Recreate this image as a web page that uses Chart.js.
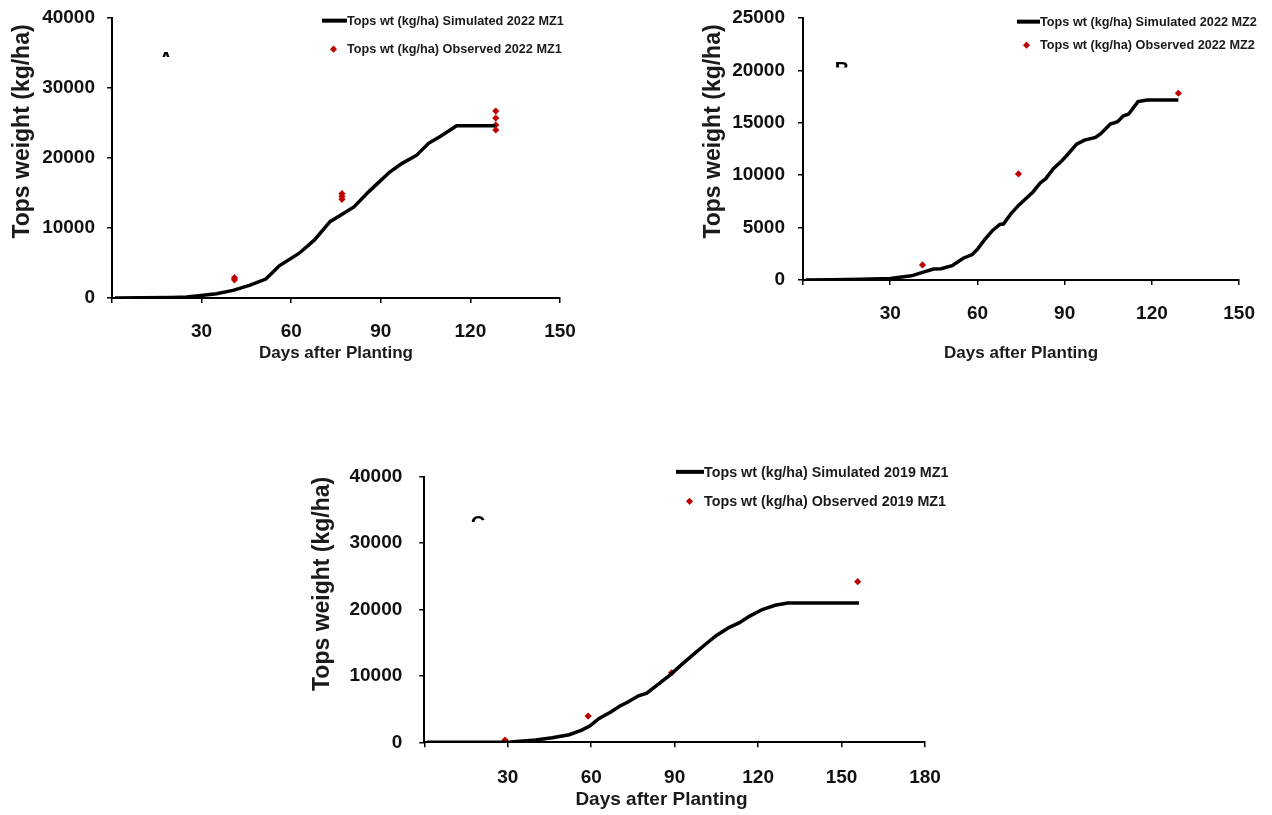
<!DOCTYPE html>
<html>
<head>
<meta charset="utf-8">
<script src="https://cdn.jsdelivr.net/npm/chart.js@4.4.1/dist/chart.umd.min.js"></script>
<style>
  body { margin:0; background:#fff; width:1272px; height:815px; position:relative; overflow:hidden;
         font-family:"Liberation Sans", Arial, sans-serif; }
  .box { position:absolute; }
  .row { position:absolute; white-space:nowrap; font-weight:bold; color:#1a1a1a; transform:translateY(-50%); line-height:1; }
  .line { position:absolute; top:50%; height:4px; margin-top:-2px; background:#000; }
  .dia { position:absolute; top:50%; width:5px; height:5px; margin-top:-2.5px; background:#c00000; transform:rotate(45deg); }
</style>
</head>
<body>

<div class="box" style="left:0;top:0;width:600px;height:380px"><canvas id="chartA" width="600" height="380"></canvas></div>
<div class="box" style="left:690px;top:0;width:582px;height:380px"><canvas id="chartB" width="582" height="380"></canvas></div>
<div class="box" style="left:300px;top:455px;width:660px;height:360px"><canvas id="chartC" width="660" height="360"></canvas></div>

<!-- legends -->
<div class="row" style="left:347px;top:21px;font-size:12.7px"><span class="line" style="left:-25px;width:25px"></span>Tops wt (kg/ha) Simulated 2022 MZ1</div>
<div class="row" style="left:347px;top:49px;font-size:12.7px"><span class="dia" style="left:-16px"></span>Tops wt (kg/ha) Observed 2022 MZ1</div>

<div class="row" style="left:1040px;top:22px;font-size:12.7px"><span class="line" style="left:-23px;width:23px"></span>Tops wt (kg/ha) Simulated 2022 MZ2</div>
<div class="row" style="left:1040px;top:45px;font-size:12.7px"><span class="dia" style="left:-16px"></span>Tops wt (kg/ha) Observed 2022 MZ2</div>

<div class="row" style="left:704px;top:472px;font-size:14.3px"><span class="line" style="left:-28px;width:28px"></span>Tops wt (kg/ha) Simulated 2019 MZ1</div>
<div class="row" style="left:704px;top:501px;font-size:14.3px"><span class="dia" style="left:-17px"></span>Tops wt (kg/ha) Observed 2019 MZ1</div>

<script>
// ---- data ----
// A: 2022 MZ1
const daysSimA = [1, 10, 20, 25, 29, 35, 40.5, 46, 51.5, 53.5, 56, 62.7, 67.8, 73, 78, 81, 86, 90, 93, 97, 102, 106, 110, 115.4, 128.3];
const topsSimA = [0, 20, 80, 150, 330, 600, 1090, 1800, 2700, 3550, 4600, 6400, 8300, 10900, 12200, 13000, 15200, 16800, 18000, 19200, 20400, 22100, 23100, 24600, 24600];
const daysObsA = [41, 41, 77, 77, 77, 128.5, 128.5, 128.5, 128.5];
const topsObsA = [2600, 2900, 14100, 14500, 14900, 24000, 24700, 25700, 26700];

// B: 2022 MZ2
const daysSimB = [1, 10, 20, 30, 37.3, 41.1, 44.9, 47.5, 51.3, 55.1, 58.2, 60.1, 62.7, 65.2, 67.7, 69, 71.5, 74.1, 76.6, 79.1, 81.6, 83.5, 86.1, 89.2, 91.1, 94.1, 96.8, 100.6, 102.5, 105.7, 108.2, 110.1, 112, 115.2, 118.4, 129.1];
const topsSimB = [0, 20, 60, 150, 400, 730, 1050, 1080, 1370, 2080, 2430, 2970, 3930, 4730, 5300, 5360, 6320, 7120, 7760, 8400, 9260, 9670, 10630, 11430, 12000, 12960, 13350, 13600, 13980, 14880, 15100, 15650, 15840, 17020, 17180, 17180];
const daysObsB = [41.1, 74.1, 129.1];
const topsObsB = [1440, 10120, 17820];

// C: 2019 MZ1
const daysSimC = [1, 31, 40, 46, 52.1, 56.6, 59.6, 62.7, 67.2, 70.2, 73.2, 77, 80, 83.8, 88.3, 92.9, 97.4, 101.2, 104.9, 109.5, 113.3, 117, 121.5, 126.1, 130.6, 156.3];
const topsSimC = [0, 50, 350, 690, 1140, 1830, 2470, 3560, 4600, 5430, 6070, 7000, 7400, 8640, 10120, 11850, 13480, 14810, 16050, 17280, 18020, 19010, 20000, 20640, 20990, 21000];
const daysObsC = [29, 58.9, 88.9, 155.8];
const topsObsC = [350, 3950, 10470, 24200];

const FONT = '"Liberation Sans", Arial, sans-serif';

function pts(xs, ys) {
  return xs.map((x, i) => ({ x: x, y: ys[i] }));
}

// clipped panel letter (only its top shows in the figure)
const panelLetter = {
  id: 'panelLetter',
  afterDraw(chart, args, o) {
    if (!o.text) return;
    const ctx = chart.ctx;
    ctx.save();
    ctx.beginPath();
    ctx.rect(o.x - 15, o.top - 5, 30, o.bottom - o.top + 5);
    ctx.clip();
    ctx.font = 'bold 20px ' + FONT;
    ctx.fillStyle = '#000';
    ctx.textAlign = 'center';
    ctx.textBaseline = 'alphabetic';
    ctx.fillText(o.text, o.x, o.top + 14.3);
    ctx.restore();
  }
};

function makeChart(id, s) {
  new Chart(document.getElementById(id), {
    type: 'scatter',
    data: {
      datasets: [
        {
          label: 'sim',
          data: pts(s.simX, s.simY),
          showLine: true,
          borderColor: '#000',
          borderWidth: 3.5,
          pointRadius: 0,
          tension: 0
        },
        {
          label: 'obs',
          data: pts(s.obsX, s.obsY),
          showLine: false,
          pointStyle: 'rectRot',
          pointRadius: 3.6,
          backgroundColor: '#c00000',
          borderColor: '#c00000',
          borderWidth: 0
        }
      ]
    },
    options: {
      responsive: false,
      animation: false,
      layout: { padding: { left: 0, top: 18, right: s.right, bottom: 0 } },
      plugins: {
        legend: { display: false },
        tooltip: { enabled: false },
        panelLetter: s.letter
      },
      scales: {
        x: {
          type: 'linear',
          min: 0, max: s.xMax,
          ticks: {
            stepSize: 30,
            padding: s.xPad,
            color: '#111',
            font: { family: FONT, size: 19, weight: 'bold' },
            callback: v => v === 0 ? '' : String(v)
          },
          grid: { display: true, drawOnChartArea: false, drawTicks: true, tickLength: 5, color: '#000', lineWidth: 1.5 },
          border: { display: true, color: '#000', width: 2 },
          title: {
            display: true,
            text: s.xTitle,
            color: '#1a1a1a',
            font: { family: FONT, size: s.xTitleSize, weight: 'bold' },
            padding: { top: 0, bottom: s.xTitlePad }
          },
          afterFit: sc => { sc.height = s.xH; }
        },
        y: {
          min: 0, max: s.yMax,
          ticks: {
            stepSize: s.yStep,
            padding: s.yPad,
            color: '#111',
            font: { family: FONT, size: 19, weight: 'bold', lineHeight: 0.5 },
            callback: v => String(v)
          },
          grid: { display: true, drawOnChartArea: false, drawTicks: true, tickLength: 5, color: '#000', lineWidth: 1.5 },
          border: { display: true, color: '#000', width: 2 },
          title: {
            display: true,
            text: s.yTitle,
            align: 'end',
            color: '#1a1a1a',
            font: { family: FONT, size: 23, weight: 'bold' },
            padding: { top: s.yTitlePad, bottom: 0 }
          },
          afterFit: sc => { sc.width = s.yW; }
        }
      }
    },
    plugins: [panelLetter]
  });
}

makeChart('chartA', {
  simX: daysSimA, simY: topsSimA, obsX: daysObsA, obsY: topsObsA,
  xMax: 150, yMax: 40000, yStep: 10000,
  xTitle: 'Days after Planting', yTitle: 'Tops weight (kg/ha) ',
  right: 40, yW: 112, xH: 82,
  xPad: 17, yPad: 12, xTitleSize: 17, xTitlePad: 16, yTitlePad: 9,
  letter: { text: 'A', x: 166, top: 52, bottom: 57 }
});

makeChart('chartB', {
  simX: daysSimB, simY: topsSimB, obsX: daysObsB, obsY: topsObsB,
  xMax: 150, yMax: 25000, yStep: 5000,
  xTitle: 'Days after Planting', yTitle: 'Tops weight (kg/ha) ',
  right: 29, yW: 113, xH: 100,
  xPad: 17, yPad: 13, xTitleSize: 17, xTitlePad: 16, yTitlePad: 10,
  letter: { text: 'B', x: 152, top: 62, bottom: 67.5 }
});

makeChart('chartC', {
  simX: daysSimC, simY: topsSimC, obsX: daysObsC, obsY: topsObsC,
  xMax: 180, yMax: 40000, yStep: 10000,
  xTitle: 'Days after Planting     ', yTitle: 'Tops weight (kg/ha)',
  right: 35, yW: 124.3, xH: 72.7,
  xPad: 19, yPad: 17, xTitleSize: 19, xTitlePad: 4, yTitlePad: 9,
  letter: { text: 'C', x: 178, top: 61, bottom: 67 }
});
</script>
</body>
</html>
